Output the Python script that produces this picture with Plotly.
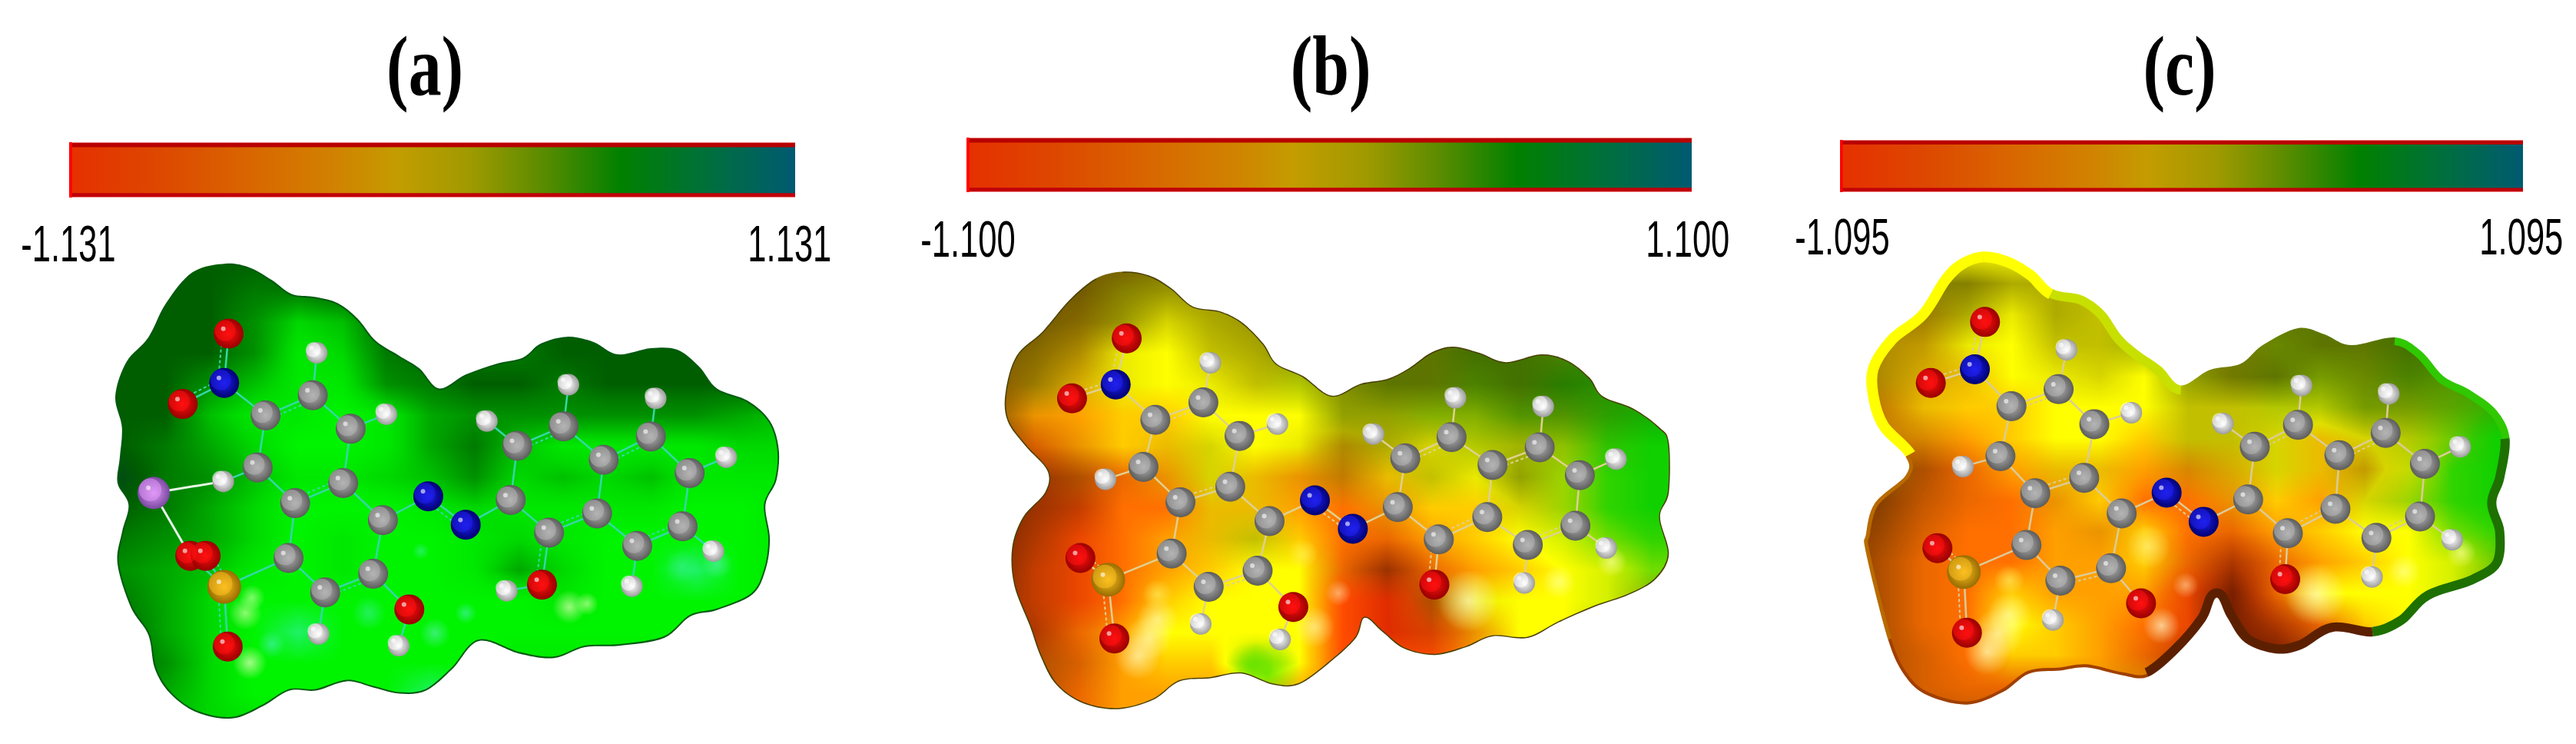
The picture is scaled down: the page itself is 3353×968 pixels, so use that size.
import plotly.graph_objects as go

W, H = 3353, 968
CROP_W, CROP_H = 918, 645
UNITS = 1600

# ---------- colour bars ----------
BAR_LEVELS = [-1.0, -0.75, -0.5, -0.25, -0.1, 0.1, 0.3, 0.52, 0.75, 1.0]
BAR_COLOURS = ["#e63000", "#dd4800", "#d96600", "#d08400", "#c49c00",
               "#a09a00", "#5c8c00", "#008000", "#00703a", "#005a72"]
PANEL_NAMES = ["(a)", "(b)", "(c)"]
PANEL_MAX = [1.131, 1.100, 1.095]
LOW_LABELS = ["-1.131", "-1.100", "-1.095"]
HIGH_LABELS = ["1.131", "1.100", "1.095"]
TITLE_X = [553, 1732, 2837]
TITLE_Y = [86, 86, 86]
LOW_X = [89, 1260, 2398]
HIGH_X = [1028, 2197, 3282]
LABEL_Y = [316, 310, 307]
BAR_LEFT = [90, 1258, 2395]
BAR_RIGHT = [1035, 2202, 3284]
BAR_TOP = [185, 179, 182]
BAR_BOTTOM = [257, 250, 250]
CROP_X = [130, 1260, 2360]
CROP_Y = [318, 318, 308]
BOND_COLOURS = ["#35d8a8", "#e0d090", "#dccb98"]

# ---------- surface colour ramps ----------
GREEN_RAMP = ["#004d12", "#005e00", "#007a00", "#009000", "#00a800",
              "#00c000", "#00d800", "#00e800", "#00f400", "#20f068"]
ESP_RAMP = ["#c01800", "#e02c00", "#ff4c00", "#ff7000", "#ffa000", "#ffcc00",
            "#ffff00", "#d4f000", "#a8e800", "#70dc00", "#30d400", "#10d000"]
SHADE_RAMP = ["rgba(30,20,0,0)", "rgba(30,20,0,0.09)", "rgba(30,20,0,0.18)", "rgba(30,20,0,0.27)",
              "rgba(30,20,0,0.36)", "rgba(30,20,0,0.45)", "rgba(30,20,0,0.54)", "rgba(30,20,0,0.63)",
              "rgba(30,20,0,0.72)", "rgba(30,20,0,0.8)"]

GRID_A = [
    "1111111111111111", "1112211111111111", "1113651111111111", "1113762122111111",
    "1135773211211111", "1157787433333345", "1246887425777766", "0235776536565777",
    "1246888767777887", "2346878876788887", "3457878874688987", "2468888888788887",
    "1468988888888886", "1368888887777777", "2468888988777777", "3566777777777777",
]
GRID_B = [
    "5555666777888999", "5556666788888999", "5556666788889999", "55566667788999aa",
    "4556666778899aaa", "44455666778899ab", "33455666566778ab", "22334654456678ab",
    "22233554345568ab", "222345653345679a", "2223456632345679", "2223566621366678",
    "2234666621246678", "3334558622246666", "3334444444444444", "3334444444444444",
]
SHADE_B = [
    "7777777777777777", "7776555566666666", "7765245666666666", "7641034566666555",
    "6521013256656544", "6100000044334432", "7210120144223210", "7541121131314100",
    "7530011001002100", "7410013001000000", "7310000015100000", "6310000000410003",
    "6410000000210025", "6420000000000000", "5410000000000000", "5410000000000000",
]
GRID_C = [
    "5566666667778899", "5566666667778899", "5556666777888999", "5556666777888999",
    "555566667788899a", "445556666677889a", "444456656665679b", "44334554456557ab",
    "33333453345468ab", "333334453345669a", "3333344532345679", "3333544421366678",
    "3333654321235677", "3333554321134444", "3333334433333333", "3333334433333333",
]
SHADE_C = [
    "0000000000000000", "6666443355555555", "6554143366666666", "5431033366566665",
    "5421012046645543", "5310000033224432", "5320000033212210", "6641011022213100",
    "7631010001002100", "7520001001000000", "7410000014100001", "7410000016100003",
    "6410000016410024", "6420000136653000", "5421111233333333", "5433333333333333",
]

# ---------- surface outlines ----------
OUTLINE_A = [(285,62),(340,75),(390,115),(435,160),(490,170),(540,190),(585,240),(625,310),(680,360),(725,400),
             (770,465),(830,420),(900,385),(960,365),(1000,320),(1060,298),(1120,315),(1175,355),(1250,335),(1310,340),
             (1360,395),(1400,465),(1470,505),(1520,570),(1540,660),(1535,760),(1510,840),(1520,950),(1510,1050),(1480,1130),
             (1400,1180),(1340,1200),(1280,1270),(1180,1295),(1100,1300),(1030,1335),(950,1320),(860,1280),(800,1370),(740,1440),
             (680,1450),(620,1430),(560,1410),(490,1440),(430,1440),(370,1490),(300,1530),(220,1510),(160,1450),(125,1370),
             (110,1260),(70,1170),(40,1030),(50,930),(65,840),(40,770),(45,690),(50,590),(35,490),(60,380),(110,300),(150,190),(210,90)]
OUTLINE_B = [(350,88),(410,100),(460,140),(510,200),(570,215),(620,250),(670,320),(700,385),(760,425),(825,488),
             (890,450),(950,435),(1000,400),(1050,350),(1100,330),(1160,350),(1220,380),(1300,355),(1360,375),(1410,430),
             (1440,490),(1510,530),(1568,590),(1590,640),(1590,800),(1570,880),(1590,1000),(1560,1080),(1500,1130),(1420,1170),
             (1340,1220),(1270,1270),(1190,1265),(1130,1300),(1060,1325),(990,1305),(940,1250),(900,1205),(880,1270),(820,1350),
             (750,1420),(690,1420),(620,1385),(550,1400),(480,1410),(420,1470),(340,1500),(260,1480),(200,1420),(165,1330),
             (140,1230),(105,1100),(100,980),(125,880),(175,800),(180,730),(130,650),(90,570),(85,480),(110,360),(170,280),(230,180),(290,110)]
OUTLINE_C = [(385,48),(445,65),(500,110),(545,170),(610,190),(660,240),(700,320),(740,370),(790,420),(835,480),
             (900,430),(970,410),(1020,350),(1100,295),(1160,315),(1220,350),(1320,325),(1380,370),(1430,450),(1490,495),
             (1550,560),(1580,650),(1568,780),(1550,860),(1568,950),(1560,1060),(1500,1120),(1400,1170),(1340,1250),(1270,1290),
             (1180,1275),(1110,1330),(1050,1345),(980,1310),(940,1230),(915,1165),(890,1240),(830,1340),(760,1420),(700,1415),
             (620,1390),(560,1400),(490,1410),(430,1470),(350,1510),(260,1480),(210,1420),(170,1300),(120,1020),(120,960),
             (140,860),(210,770),(210,710),(150,620),(125,520),(125,420),(170,320),(240,240),(290,130),(330,75)]
# rim bands: first outline point, last outline point, colour, width
RIMS_A = [(0, 62, "#005a10", 4)]
RIMS_B = [(0, 62, "#4a4000", 3)]
RIMS_C = [(52, 60, "#ffff00", 28), (0, 3, "#ffff00", 28), (3, 9, "#c8e000", 24), (16, 21, "#30c800", 20),
          (21, 29, "#1e7000", 24), (29, 38, "#5c2000", 24), (38, 47, "#a04000", 8), (47, 52, "#b86a00", 10)]

# ---------- atoms ----------
ATOMS_A = dict(On1=(292,288),Nn=(282,447),On2=(188,515),C1=(376,552),C2=(483,487),C3=(569,595),H3=(650,548),H2=(492,350),
    C4=(358,720),H4=(280,765),C5=(552,770),C6=(443,835),C7=(642,890),N1=(745,813),N2=(830,905),C8=(932,825),C9=(947,650),
    H9=(878,570),C10=(1052,587),H10=(1063,453),C11=(1143,695),C12=(1250,620),H12=(1261,497),C13=(1338,738),H13=(1421,687),
    C14=(1322,910),H14=(1392,990),C15=(1219,973),H15=(1207,1103),C16=(1128,868),C17=(1019,930),O17=(1003,1098),HO17=(923,1118),
    C18=(428,1012),S=(282,1105),OS1=(205,1005),OS3=(240,1005),OS2=(290,1298),C19=(620,1063),C20=(511,1123),H20=(496,1257),
    O19=(702,1178),HO19=(678,1295),X=(122,802))
ATOMS_B = dict(On1=(360,303),Nn=(335,452),On2=(236,497),C1=(425,566),C2=(534,510),C3=(616,618),H3=(702,580),H2=(550,382),
    C4=(398,718),H4=(312,758),C5=(595,782),C6=(482,832),C7=(684,893),N1=(787,826),N2=(873,918),C8=(975,848),C9=(992,690),
    H9=(920,612),C10=(1097,622),H10=(1106,495),C11=(1190,712),C12=(1297,655),H12=(1305,523),C13=(1388,745),H13=(1470,693),
    C14=(1378,908),H14=(1448,980),C15=(1270,970),H15=(1262,1093),C16=(1178,880),C17=(1068,952),O17=(1058,1098),
    C18=(462,998),S=(318,1082),OS1=(255,1012),OS2=(332,1272),C19=(657,1053),C20=(546,1105),H20=(528,1225),
    O19=(738,1170),HO19=(708,1275))
ATOMS_C = dict(On1=(390,275),Nn=(367,428),On2=(267,472),C1=(450,547),C2=(557,492),C3=(638,605),H3=(722,568),H2=(575,365),
    C4=(425,708),H4=(340,742),C5=(615,778),C6=(504,828),C7=(700,893),N1=(802,826),N2=(886,920),C8=(987,848),C9=(1002,678),
    H9=(930,603),C10=(1100,607),H10=(1108,480),C11=(1194,705),C12=(1299,633),H12=(1306,507),C13=(1388,733),H13=(1468,678),
    C14=(1377,903),H14=(1450,978),C15=(1278,972),H15=(1268,1098),C16=(1185,878),C17=(1077,957),O17=(1071,1105),
    C18=(484,995),S=(342,1082),OS1=(282,1005),OS2=(349,1278),C19=(676,1070),C20=(561,1110),H20=(544,1237),O19=(744,1183))
SINGLE = [("Nn","C1"),("C3","H3"),("C2","H2"),("C1","C4"),("C4","H4"),("C3","C5"),("C4","C6"),("C5","C7"),("C7","N1"),
          ("N2","C8"),("C8","C9"),("C9","H9"),("C10","H10"),("C10","C11"),("C12","H12"),("C12","C13"),("C13","H13"),
          ("C14","H14"),("C15","H15"),("C15","C16"),("C16","C11"),("C17","C8"),("C6","C18"),("C18","C20"),("C18","S"),
          ("C19","C7"),("C20","H20"),("C19","O19"),("O19","HO19"),("O17","HO17"),("C2","C3"),("C13","C14")]
DOUBLE = [("On1","Nn"),("Nn","On2"),("C1","C2"),("C5","C6"),("N1","N2"),("C9","C10"),("C11","C12"),("C14","C15"),
          ("C16","C17"),("C17","O17"),("S","OS1"),("S","OS2"),("S","OS3"),("C20","C19")]
X_BONDS = [("X","H4"),("X","OS1")]
ATOM_SIZE = dict(C=39, O=39, N=39, H=28, S=44, X=42)
ATOM_FILL = dict(C="#b4b4b4", O="#ff1010", N="#2020f0", H="#ffffff", S="#fcc020", X="#e098f8")
ATOM_EDGE = dict(C="#5c5c5c", O="#980000", N="#000070", H="#9c9c9c", S="#986c00", X="#7a48a0")

# ---------- pale glints on the surface: x, y, size, rgb ----------
GLINTS_A = [(340,1350,44,"232,255,192"),(330,1190,44,"200,255,160"),(345,1140,34,"180,255,150"),(1065,1170,44,"220,255,180"),
            (1105,1160,30,"200,255,160"),(760,1255,40,"80,240,160"),(1400,1030,40,"80,240,160"),(1320,1040,44,"50,240,130"),
            (390,1290,36,"64,240,160"),(830,1190,28,"64,240,160"),(610,1190,44,"50,240,130"),(728,990,22,"50,240,130")]
GLINTS_B = [(385,1330,60,"255,250,190"),(410,1270,60,"255,250,190"),(430,1210,54,"255,250,170"),(430,1130,40,"255,235,90"),
            (1135,1150,80,"255,250,200"),(785,1235,54,"255,245,160"),(840,1125,34,"255,200,140"),(1340,1090,44,"255,255,150"),
            (1460,1025,40,"255,255,150"),(760,1000,40,"255,240,80"),(680,1385,90,"60,225,0"),(640,1360,64,"90,225,0")]
GLINTS_C = [(395,1340,60,"255,250,190"),(420,1280,66,"255,250,190"),(445,1220,58,"255,250,170"),(445,1110,40,"255,235,90"),
            (1140,1155,80,"255,250,200"),(790,1255,48,"255,250,200"),(845,1125,34,"255,200,140"),(760,1000,58,"255,245,130"),
            (1340,1080,44,"255,255,150"),(1470,1020,40,"255,255,150")]

PANELS = [
    (GRID_A, None, GREEN_RAMP, OUTLINE_A, RIMS_A, ATOMS_A, GLINTS_A),
    (GRID_B, SHADE_B, ESP_RAMP, OUTLINE_B, RIMS_B, ATOMS_B, GLINTS_B),
    (GRID_C, SHADE_C, ESP_RAMP, OUTLINE_C, RIMS_C, ATOMS_C, GLINTS_C),
]


def scale(colours):
    return [[i / (len(colours) - 1), c] for i, c in enumerate(colours)]


def spline_seg(p, i):
    n = len(p)
    p0, p1, p2, p3 = p[(i - 1) % n], p[i % n], p[(i + 1) % n], p[(i + 2) % n]
    c1 = (p1[0] + (p2[0] - p0[0]) / 6, p1[1] + (p2[1] - p0[1]) / 6)
    c2 = (p2[0] - (p3[0] - p1[0]) / 6, p2[1] - (p3[1] - p1[1]) / 6)
    return f"C{c1[0]:.1f},{c1[1]:.1f} {c2[0]:.1f},{c2[1]:.1f} {p2[0]},{p2[1]}"


def closed_path(p):
    return f"M{p[0][0]},{p[0][1]} " + " ".join(spline_seg(p, i) for i in range(len(p))) + " Z"


def open_path(p, a, b):
    n = len(p)
    return f"M{p[a % n][0]},{p[a % n][1]} " + " ".join(spline_seg(p, i) for i in range(a, b))


def cells(grid):
    return [[int(ch, 16) for ch in row.ljust(16, row[-1])[:16]] for row in grid]


fig = go.Figure()
layout = dict(width=W, height=H, margin=dict(l=0, r=0, t=0, b=0), paper_bgcolor="white", plot_bgcolor="white",
              showlegend=False)
shapes, annotations = [], []


def kind(name):
    return name[0] if name[0] in "CNSXH" else "O"


for k in range(3):
    grid, shade, ramp, outline, rims, atoms, glints = PANELS[k]
    n = 2 * k + 1
    suffix_x, suffix_y = f"x{n}", f"y{n}"
    ax = dict(visible=False, fixedrange=True)
    layout[f"xaxis{n}"] = dict(ax, range=[0, UNITS], anchor=suffix_y,
                               domain=[CROP_X[k] / W, (CROP_X[k] + CROP_W) / W])
    layout[f"yaxis{n}"] = dict(ax, range=[UNITS, 0], anchor=suffix_x,
                               domain=[1 - (CROP_Y[k] + CROP_H) / H, 1 - CROP_Y[k] / H])
    fig.add_trace(go.Heatmap(z=cells(grid), x0=50, dx=100, y0=50, dy=100, zmin=0, zmax=len(ramp) - 1,
                             colorscale=scale(ramp), zsmooth="best", showscale=False, hoverinfo="skip",
                             xaxis=suffix_x, yaxis=suffix_y))
    if shade:
        fig.add_trace(go.Heatmap(z=cells(shade), x0=50, dx=100, y0=50, dy=100, zmin=0, zmax=9,
                                 colorscale=scale(SHADE_RAMP), zsmooth="best", showscale=False, hoverinfo="skip",
                                 xaxis=suffix_x, yaxis=suffix_y))
    # surface glints: for a radial gradient, gradient.color is the centre and marker.color the edge
    fig.add_trace(go.Scatter(x=[g[0] for g in glints], y=[g[1] for g in glints], mode="markers", hoverinfo="skip",
                             marker=dict(size=[g[2] for g in glints], color=[f"rgba({g[3]},0)" for g in glints],
                                         line_width=0,
                                         gradient=dict(type="radial", color=[f"rgba({g[3]},1)" for g in glints])),
                             xaxis=suffix_x, yaxis=suffix_y))
    # bonds
    bx, by, dx, dy = [], [], [], []
    for a, b in SINGLE + DOUBLE:
        if a in atoms and b in atoms:
            bx += [atoms[a][0], atoms[b][0], None]
            by += [atoms[a][1], atoms[b][1], None]
    for a, b in DOUBLE:
        if a in atoms and b in atoms:
            ux, uy = atoms[b][0] - atoms[a][0], atoms[b][1] - atoms[a][1]
            ln = (ux * ux + uy * uy) ** 0.5
            ox, oy = -uy / ln * 14, ux / ln * 14
            dx += [atoms[a][0] + ox, atoms[b][0] + ox, None]
            dy += [atoms[a][1] + oy, atoms[b][1] + oy, None]
    fig.add_trace(go.Scatter(x=bx, y=by, mode="lines", line=dict(color=BOND_COLOURS[k], width=2.5), hoverinfo="skip",
                             xaxis=suffix_x, yaxis=suffix_y))
    fig.add_trace(go.Scatter(x=dx, y=dy, mode="lines", line=dict(color=BOND_COLOURS[k], width=2, dash="4px,3px"),
                             hoverinfo="skip", xaxis=suffix_x, yaxis=suffix_y))
    if "X" in atoms:
        wx, wy = [], []
        for a, b in X_BONDS:
            wx += [atoms[a][0], atoms[b][0], None]
            wy += [atoms[a][1], atoms[b][1], None]
        fig.add_trace(go.Scatter(x=wx, y=wy, mode="lines", line=dict(color="#e8f8e8", width=3), hoverinfo="skip",
                                 xaxis=suffix_x, yaxis=suffix_y))
    # atoms: body, specular spot
    for el in "SONCHX":
        names = [m for m in atoms if kind(m) == el]
        if not names:
            continue
        xs, ys = [atoms[m][0] for m in names], [atoms[m][1] for m in names]
        fig.add_trace(go.Scatter(x=xs, y=ys, mode="markers", hoverinfo="skip",
                                 marker=dict(size=ATOM_SIZE[el], color=ATOM_EDGE[el], line_width=0,
                                             gradient=dict(type="radial", color=ATOM_FILL[el])),
                                 xaxis=suffix_x, yaxis=suffix_y))
        fig.add_trace(go.Scatter(x=[v - 8 for v in xs], y=[v - 10 for v in ys], mode="markers", hoverinfo="skip",
                                 marker=dict(size=ATOM_SIZE[el] * 0.7, color=ATOM_FILL[el], opacity=0.55, line_width=0),
                                 xaxis=suffix_x, yaxis=suffix_y))
        fig.add_trace(go.Scatter(x=[v - 12 for v in xs], y=[v - 16 for v in ys], mode="markers", hoverinfo="skip",
                                 marker=dict(size=6, color="rgba(255,255,255,0.6)", line_width=0),
                                 xaxis=suffix_x, yaxis=suffix_y))
    # rims, then white mask outside the surface
    for a, b, col, wid in rims:
        shapes.append(dict(type="path", xref=suffix_x, yref=suffix_y, path=open_path(outline, a, b),
                           line=dict(color=col, width=wid), fillcolor="rgba(0,0,0,0)", layer="above"))
    frame = f"M-10,-10 L{UNITS+10},-10 L{UNITS+10},{UNITS+10} L-10,{UNITS+10} Z "
    shapes.append(dict(type="path", xref=suffix_x, yref=suffix_y, path=frame + closed_path(outline),
                       fillcolor="white", fillrule="evenodd", line_width=0, layer="above"))

    # colour bar on its own axis
    m = 2 * k + 2
    hi = PANEL_MAX[k]
    layout[f"xaxis{m}"] = dict(ax, range=[-hi, hi], anchor=f"y{m}", domain=[BAR_LEFT[k] / W, BAR_RIGHT[k] / W])
    layout[f"yaxis{m}"] = dict(ax, range=[0, 1], anchor=f"x{m}", domain=[1 - BAR_BOTTOM[k] / H, 1 - BAR_TOP[k] / H])
    vals = [v * hi for v in BAR_LEVELS]
    fig.add_trace(go.Heatmap(x=vals, y=[0, 1], z=[vals, vals], zmin=-hi, zmax=hi, zsmooth="best", showscale=False,
                             colorscale=[[(v + 1) / 2, c] for v, c in zip(BAR_LEVELS, BAR_COLOURS)],
                             hoverinfo="skip", xaxis=f"x{m}", yaxis=f"y{m}"))
    for y0, y1, col in [(0.91, 0.985, "#b80000"), (0.985, 1.0, "#f08888"), (0.015, 0.08, "#c00008"), (0.0, 0.015, "#f08888")]:
        shapes.append(dict(type="rect", xref=f"x{m} domain", yref=f"y{m} domain", x0=0, x1=1, y0=y0, y1=y1,
                           fillcolor=col, line_width=0, layer="above"))
    shapes.append(dict(type="rect", xref=f"x{m} domain", yref=f"y{m} domain", x0=0, x1=0.004, y0=0, y1=1,
                       fillcolor="#ff0000", line_width=0, layer="above"))

    # texts
    annotations.append(dict(xref="paper", yref="paper", x=TITLE_X[k] / W, y=1 - TITLE_Y[k] / H,
                            text=f"<b>{PANEL_NAMES[k]}</b>", showarrow=False, xanchor="center", yanchor="middle",
                            font=dict(family="Liberation Serif", size=110, color="black")))
    for tx, label in ((LOW_X[k], LOW_LABELS[k]), (HIGH_X[k], HIGH_LABELS[k])):
        annotations.append(dict(xref="paper", yref="paper", x=tx / W, y=1 - LABEL_Y[k] / H, text=label, showarrow=False,
                                xanchor="center", yanchor="middle",
                                font=dict(family="Liberation Sans", size=67, color="black")))

fig.update_layout(**layout, shapes=shapes, annotations=annotations)

SQUEEZE_SCRIPT = """
document.body.style.margin='0';document.body.style.overflow='hidden';
document.querySelectorAll('.annotation-text').forEach(function(t){
  var s = t.textContent.indexOf('(')===0 ? 0.78 : 0.65;
  var b = t.getBBox(); var c = b.x + b.width/2;
  t.setAttribute('transform','translate('+c+' 0) scale('+s+' 1) translate('+(-c)+' 0)');
});
"""
fig.write_html("out.html", config=dict(displayModeBar=False), post_script=SQUEEZE_SCRIPT)
